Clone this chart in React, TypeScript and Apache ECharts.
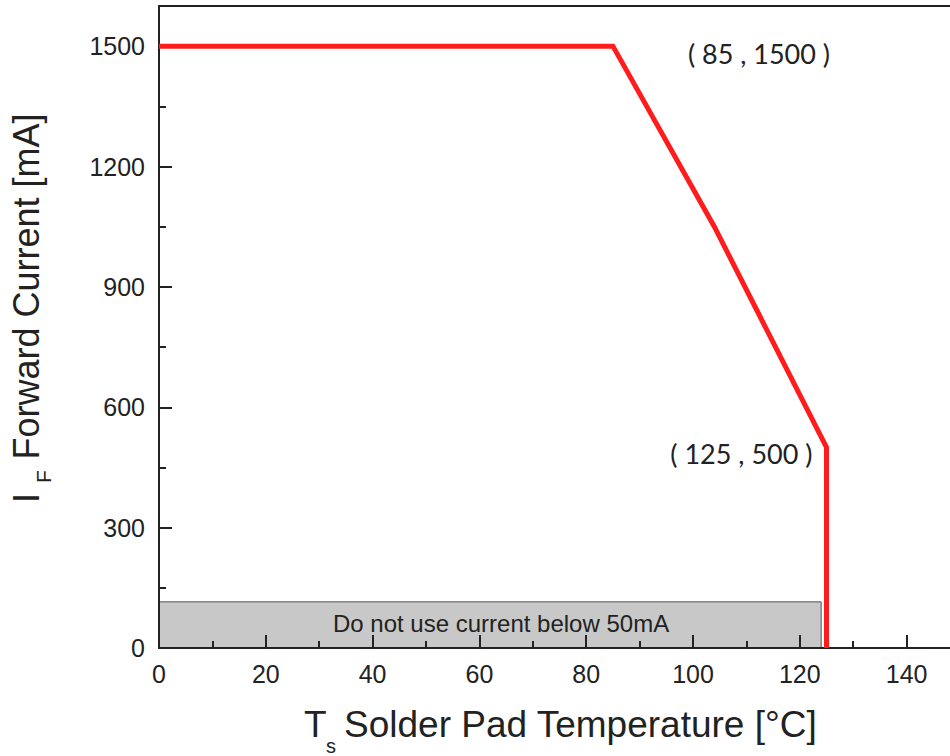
import React, { useEffect, useRef } from 'react';
import * as echarts from 'echarts';

// Derating curve: solder pad temperature (°C) vs forward current (mA)
const temperature = [0, 85, 104, 125, 125];
const current = [1500, 1500, 1050, 500, 0];

// "Do not use" region
const keepOutTemp = [0, 124];
const keepOutCurrent = [0, 115];
const keepOutText = 'Do not use current below 50mA';

// Callouts
const calloutTemp = [85, 125];
const calloutCurrent = [1500, 500];
const calloutText = ['( 85 , 1500 )', '( 125 , 500 )'];

// Axes
const xRange = [0, 150];
const xMajor = 20;
const xMinor = 10;
const yRange = [0, 1600];
const yMajor = 300;
const yMinor = 150;

const SANS = '"Liberation Sans", Arial, Helvetica, sans-serif';
const INK = '#222';

export default function App() {
  const ref = useRef<HTMLDivElement>(null);

  useEffect(() => {
    const chart = echarts.init(ref.current!, null, { renderer: 'svg' });
    const tickLine = { color: INK, width: 2 };
    const axisFont = { fontFamily: SANS, fontSize: 25, color: INK, formatter: (v: number) => String(v) };

    const calloutLayout = [
      { position: [75, 7], align: 'left' },
      { position: [-14, 6], align: 'right' },
    ];

    chart.setOption({
      animation: false,
      backgroundColor: '#ffffff',
      grid: {
        left: 159,
        top: 6,
        width: 801,
        height: 642,
        outerBoundsMode: 'none',
        containLabel: false,
        show: true,
        borderColor: INK,
        borderWidth: 2,
        backgroundColor: 'transparent',
      },
      xAxis: [
        {
          type: 'value',
          min: xRange[0],
          max: xRange[1],
          interval: xMajor,
          position: 'bottom',
          z: 10,
          axisLine: { show: true, onZero: false, lineStyle: tickLine },
          axisTick: { show: true, inside: true, length: 13, lineStyle: tickLine },
          axisLabel: { ...axisFont, margin: 13, showMaxLabel: false },
          splitLine: { show: false },
        },
        {
          type: 'value',
          min: xRange[0],
          max: xRange[1],
          interval: xMinor,
          position: 'bottom',
          z: 10,
          axisLine: { show: false },
          axisTick: { show: true, inside: true, length: 7, lineStyle: tickLine },
          axisLabel: { show: false },
          splitLine: { show: false },
        },
      ],
      yAxis: [
        {
          type: 'value',
          min: yRange[0],
          max: yRange[1],
          interval: yMajor,
          position: 'left',
          z: 10,
          axisLine: { show: true, onZero: false, lineStyle: tickLine },
          axisTick: { show: true, inside: true, length: 13, lineStyle: tickLine },
          axisLabel: { ...axisFont, margin: 14, showMaxLabel: false },
          splitLine: { show: false },
        },
        {
          type: 'value',
          min: yRange[0],
          max: yRange[1],
          interval: yMinor,
          position: 'left',
          z: 10,
          axisLine: { show: false },
          axisTick: { show: true, inside: true, length: 7, lineStyle: tickLine },
          axisLabel: { show: false },
          splitLine: { show: false },
        },
      ],
      series: [
        {
          type: 'line',
          xAxisIndex: 0,
          yAxisIndex: 0,
          data: temperature.map((t, i) => [t, current[i]]),
          showSymbol: false,
          symbol: 'none',
          z: 12,
          lineStyle: { color: '#ff1c1c', width: 5, join: 'miter' },
          markArea: {
            silent: true,
            itemStyle: { color: '#c8c8c8', borderColor: '#555', borderWidth: 1 },
            label: {
              show: true,
              position: 'inside',
              offset: [11, -1],
              fontFamily: SANS,
              fontSize: 24,
              color: INK,
            },
            data: [
              [
                { name: keepOutText, xAxis: keepOutTemp[0], yAxis: keepOutCurrent[0] },
                { xAxis: keepOutTemp[1], yAxis: keepOutCurrent[1] },
              ],
            ],
          },
          markPoint: {
            silent: true,
            symbol: 'circle',
            symbolSize: 0,
            data: calloutTemp.map((t, i) => ({
              coord: [t, calloutCurrent[i]],
              value: calloutText[i],
              label: {
                show: true,
                formatter: calloutText[i],
                position: calloutLayout[i].position,
                align: calloutLayout[i].align,
                verticalAlign: 'middle',
                fontFamily: 'Lato, "Open Sans", sans-serif',
                fontSize: 27,
                color: INK,
              },
            })),
          },
        },
      ],
      graphic: [
        // X axis title: T_s Solder Pad Temperature [°C]
        {
          type: 'text',
          x: 304,
          y: 724,
          style: { text: 'T', font: `37px ${SANS}`, fill: INK, align: 'left', verticalAlign: 'middle' },
        },
        {
          type: 'text',
          x: 326,
          y: 746,
          style: { text: 's', font: `20px ${SANS}`, fill: INK, align: 'left', verticalAlign: 'middle' },
        },
        {
          type: 'text',
          x: 344,
          y: 724,
          style: {
            text: 'Solder Pad Temperature [°C]',
            font: `37px ${SANS}`,
            fill: INK,
            align: 'left',
            verticalAlign: 'middle',
          },
        },
        // Y axis title: I_F Forward Current [mA]
        {
          type: 'text',
          x: 26,
          y: 503,
          rotation: Math.PI / 2,
          style: { text: 'I', font: `36px ${SANS}`, fill: INK, align: 'left', verticalAlign: 'middle' },
        },
        {
          type: 'text',
          x: 43.5,
          y: 483,
          rotation: Math.PI / 2,
          style: { text: 'F', font: `21px ${SANS}`, fill: INK, align: 'left', verticalAlign: 'middle' },
        },
        {
          type: 'text',
          x: 26,
          y: 459.5,
          rotation: Math.PI / 2,
          style: {
            text: 'Forward Current [mA]',
            font: `36px ${SANS}`,
            fill: INK,
            align: 'left',
            verticalAlign: 'middle',
          },
        },
      ],
    });

    return () => chart.dispose();
  }, []);

  return (
    <div
      ref={ref}
      style={{ position: 'absolute', left: 0, top: 0, width: 950, height: 756, background: '#fff' }}
    />
  );
}
